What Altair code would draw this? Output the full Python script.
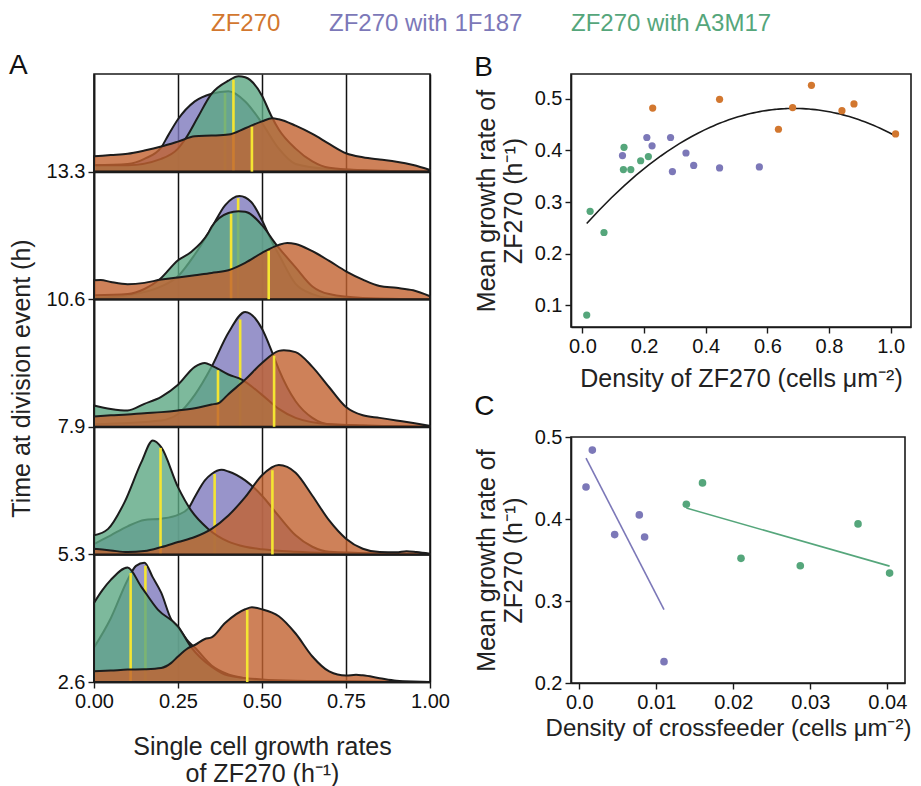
import altair as alt
import pandas as pd
import numpy as np

FONT = "Liberation Sans"

GROUPS = ["ZF270", "ZF270 with 1F187", "ZF270 with A3M17"]
POINT_COLORS = ["#D2772F", "#7C78B8", "#55A67B"]
FILL_COLORS = ["#C2612F", "#7E79BD", "#5DA783"]
ROW_LABELS = ["2.6", "5.3", "7.9", "10.6", "13.3"]

# ---- Panel A: ridge curves, (growth rate, height in row units), rows bottom -> top ----
R26_ZF270 = [(0, 0.084), (0.05, 0.09), (0.1, 0.097), (0.15, 0.1), (0.2, 0.11), (0.23, 0.15), (0.25, 0.2),
             (0.28, 0.265), (0.3, 0.29), (0.33, 0.337), (0.35, 0.35), (0.39, 0.462), (0.45, 0.57), (0.47, 0.585),
             (0.5, 0.57), (0.55, 0.515), (0.6, 0.38), (0.65, 0.2), (0.7, 0.083), (0.75, 0.05), (0.78, 0.057),
             (0.8, 0.052), (0.85, 0.03), (0.9, 0.01), (1.0, 0.0)]
R26_1F187 = [(0, 0.27), (0.05, 0.5), (0.1, 0.8), (0.125, 0.91), (0.15, 0.935), (0.175, 0.82), (0.2, 0.7),
             (0.23, 0.49), (0.25, 0.43), (0.28, 0.32), (0.3, 0.27), (0.35, 0.13), (0.4, 0.06), (0.45, 0.03),
             (0.5, 0.01), (1.0, 0.0)]
R26_A3M17 = [(0, 0.62), (0.025, 0.72), (0.05, 0.8), (0.1, 0.897), (0.14, 0.75), (0.19, 0.567), (0.25, 0.436),
             (0.29, 0.27), (0.35, 0.12), (0.4, 0.05), (0.5, 0.02), (0.6, 0.01), (1.0, 0.0)]

R53_ZF270 = [(0, 0.044), (0.05, 0.031), (0.1, 0.018), (0.15, 0.026), (0.2, 0.057), (0.25, 0.097), (0.3, 0.136),
             (0.35, 0.2), (0.4, 0.305), (0.45, 0.449), (0.5, 0.62), (0.55, 0.7), (0.6, 0.64), (0.65, 0.46),
             (0.7, 0.266), (0.75, 0.123), (0.8, 0.044), (0.85, 0.018), (0.9, 0.016), (0.93, 0.025),
             (0.96, 0.018), (1.0, 0.005)]
R53_1F187 = [(0, 0.08), (0.05, 0.15), (0.1, 0.22), (0.15, 0.27), (0.2, 0.28), (0.25, 0.31), (0.28, 0.358),
             (0.3, 0.45), (0.33, 0.58), (0.35, 0.63), (0.38, 0.663), (0.4, 0.65), (0.45, 0.58), (0.5, 0.46),
             (0.55, 0.3), (0.6, 0.15), (0.65, 0.06), (0.7, 0.02), (1.0, 0.0)]
R53_A3M17 = [(0, 0.149), (0.042, 0.2), (0.091, 0.41), (0.141, 0.723), (0.175, 0.893), (0.2, 0.84),
             (0.25, 0.527), (0.289, 0.345), (0.34, 0.2), (0.4, 0.1), (0.45, 0.06), (0.5, 0.04), (0.6, 0.02),
             (0.7, 0.01), (1.0, 0.0)]

R79_ZF270 = [(0, 0.081), (0.05, 0.09), (0.1, 0.097), (0.15, 0.107), (0.2, 0.115), (0.25, 0.128), (0.3, 0.146),
             (0.35, 0.175), (0.37, 0.185), (0.4, 0.256), (0.45, 0.37), (0.5, 0.5), (0.55, 0.595), (0.565, 0.6),
             (0.6, 0.585), (0.65, 0.47), (0.7, 0.31), (0.75, 0.155), (0.8, 0.09), (0.85, 0.07), (0.9, 0.05),
             (0.95, 0.03), (1.0, 0.008)]
R79_1F187 = [(0, 0.02), (0.2, 0.05), (0.25, 0.1), (0.3, 0.25), (0.35, 0.47), (0.4, 0.737), (0.45, 0.9),
             (0.5, 0.768), (0.53, 0.585), (0.55, 0.45), (0.6, 0.2), (0.65, 0.07), (0.7, 0.02), (1.0, 0.0)]
R79_A3M17 = [(0, 0.167), (0.05, 0.14), (0.1, 0.128), (0.15, 0.18), (0.2, 0.235), (0.25, 0.33), (0.3, 0.47),
             (0.33, 0.5), (0.35, 0.48), (0.4, 0.41), (0.44, 0.37), (0.5, 0.25), (0.55, 0.14), (0.6, 0.07),
             (0.7, 0.02), (0.8, 0.01), (1.0, 0.0)]

R106_ZF270 = [(0, 0.149), (0.02, 0.15), (0.05, 0.135), (0.1, 0.118), (0.15, 0.128), (0.2, 0.154), (0.25, 0.17),
              (0.3, 0.188), (0.35, 0.206), (0.4, 0.227), (0.45, 0.285), (0.5, 0.363), (0.55, 0.426),
              (0.575, 0.441), (0.6, 0.433), (0.65, 0.376), (0.7, 0.3), (0.75, 0.219), (0.8, 0.154),
              (0.85, 0.104), (0.9, 0.089), (0.95, 0.07), (1.0, 0.023)]
R106_1F187 = [(0, 0.01), (0.1, 0.03), (0.2, 0.1), (0.25, 0.18), (0.3, 0.35), (0.35, 0.56), (0.39, 0.736),
              (0.433, 0.809), (0.468, 0.762), (0.5, 0.619), (0.532, 0.436), (0.55, 0.35), (0.6, 0.12),
              (0.65, 0.04), (0.7, 0.01), (1.0, 0.0)]
R106_A3M17 = [(0, 0.03), (0.1, 0.04), (0.15, 0.08), (0.195, 0.154), (0.25, 0.305), (0.289, 0.37),
              (0.339, 0.514), (0.35, 0.567), (0.4, 0.676), (0.43, 0.689), (0.45, 0.686), (0.5, 0.58),
              (0.54, 0.436), (0.6, 0.25), (0.65, 0.1), (0.7, 0.04), (0.8, 0.01), (1.0, 0.0)]

R133_ZF270 = [(0, 0.12), (0.05, 0.13), (0.1, 0.14), (0.15, 0.165), (0.2, 0.196), (0.25, 0.235), (0.3, 0.277),
              (0.35, 0.282), (0.4, 0.29), (0.45, 0.34), (0.5, 0.394), (0.53, 0.418), (0.55, 0.41), (0.6, 0.36),
              (0.65, 0.295), (0.7, 0.217), (0.75, 0.144), (0.8, 0.112), (0.85, 0.094), (0.9, 0.078),
              (0.95, 0.052), (1.0, 0.013)]
R133_1F187 = [(0, 0.05), (0.1, 0.06), (0.15, 0.1), (0.2, 0.19), (0.22, 0.28), (0.25, 0.41), (0.3, 0.55),
              (0.35, 0.61), (0.4, 0.63), (0.45, 0.55), (0.5, 0.38), (0.55, 0.18), (0.6, 0.06), (0.7, 0.02),
              (0.8, 0.01), (1.0, 0.0)]
R133_A3M17 = [(0, 0.05), (0.1, 0.05), (0.2, 0.1), (0.25, 0.18), (0.275, 0.269), (0.309, 0.426),
              (0.349, 0.608), (0.4, 0.713), (0.43, 0.747), (0.45, 0.739), (0.5, 0.595), (0.527, 0.44),
              (0.55, 0.33), (0.6, 0.18), (0.65, 0.08), (0.7, 0.03), (0.8, 0.01), (1.0, 0.0)]

MEANS_ZF270 = [0.456, 0.531, 0.536, 0.52, 0.47]
MEANS_1F187 = [0.153, 0.359, 0.435, 0.429, 0.39]
MEANS_A3M17 = [0.109, 0.198, 0.369, 0.408, 0.415]

# ---- Panel B ----
B_ZF270_X = [0.228, 0.445, 0.636, 0.682, 0.743, 0.842, 0.881, 1.016]
B_ZF270_Y = [0.482, 0.499, 0.441, 0.483, 0.526, 0.477, 0.490, 0.432]
B_1F187_X = [0.130, 0.209, 0.226, 0.286, 0.292, 0.336, 0.361, 0.445, 0.574]
B_1F187_Y = [0.390, 0.425, 0.409, 0.425, 0.359, 0.395, 0.371, 0.366, 0.368]
B_A3M17_X = [0.014, 0.025, 0.070, 0.135, 0.133, 0.157, 0.189, 0.214]
B_A3M17_Y = [0.081, 0.282, 0.241, 0.406, 0.363, 0.363, 0.380, 0.388]

# ---- Panel C ----
C_1F187_X = [0.00087, 0.00169, 0.00459, 0.00779, 0.00848, 0.0110]
C_1F187_Y = [0.439, 0.484, 0.381, 0.405, 0.378, 0.226]
C_A3M17_X = [0.0139, 0.0160, 0.0210, 0.0287, 0.0362, 0.0403]
C_A3M17_Y = [0.418, 0.444, 0.352, 0.343, 0.394, 0.334]

CURVES = {
    GROUPS[0]: [R26_ZF270, R53_ZF270, R79_ZF270, R106_ZF270, R133_ZF270],
    GROUPS[1]: [R26_1F187, R53_1F187, R79_1F187, R106_1F187, R133_1F187],
    GROUPS[2]: [R26_A3M17, R53_A3M17, R79_A3M17, R106_A3M17, R133_A3M17],
}
MEANS = {GROUPS[0]: MEANS_ZF270, GROUPS[1]: MEANS_1F187, GROUPS[2]: MEANS_A3M17}

area_rows, mean_rows = [], []
for g in GROUPS:
    for r, curve in enumerate(CURVES[g]):
        xs = [p[0] for p in curve]
        hs = [p[1] for p in curve]
        for x, h in curve:
            area_rows.append({"group": g, "row": r, "x": x, "top": r + h, "base": r})
        m = MEANS[g][r]
        mean_rows.append({"group": g, "row": r, "x": m, "base": r,
                          "top": r + float(np.interp(m, xs, hs)) - 0.01})
ridge = pd.DataFrame(area_rows)
means = pd.DataFrame(mean_rows)

ROW_H = 127.6
A_W, A_H = 336, 608
y_top = A_H / ROW_H

labels_js = "[" + ",".join(f"'{s}'" for s in ROW_LABELS) + "]"

xA = alt.X("x:Q", scale=alt.Scale(domain=[0, 1], nice=False, zero=False),
           axis=alt.Axis(values=[0, 0.25, 0.5, 0.75, 1.0], format=".2f", grid=True, labelFlush=False,
                         title=["Single cell growth rates", "of ZF270 (h\u207b\u00b9)"], titlePadding=23))
yA = alt.Y("top:Q", scale=alt.Scale(domain=[0, y_top], nice=False, zero=False),
           axis=alt.Axis(values=[0, 1, 2, 3, 4], labelExpr=f"{labels_js}[datum.value]", grid=True,
                         labelFlush=False, title="Time at division event  (h)", titlePadding=12))

layers = []
for g in [GROUPS[1], GROUPS[2], GROUPS[0]]:
    fill = FILL_COLORS[GROUPS.index(g)]
    layers.append(
        alt.Chart(ridge[ridge.group == g]).mark_area(
            interpolate="monotone", fill=fill, fillOpacity=0.8, stroke="#1c1c1c", strokeWidth=2
        ).encode(x=xA, y=yA, y2="base:Q", detail="row:N")
    )
    layers.append(
        alt.Chart(means[means.group == g]).mark_rule(color="#F4E532", strokeWidth=2.6).encode(
            x=xA, y=yA, y2="base:Q"
        )
    )

panelA = alt.layer(*layers).properties(
    width=A_W, height=A_H,
    title=alt.TitleParams("A", anchor="start", fontSize=28, fontWeight="normal", font=FONT,
                          color="#111", offset=-8),
)

color_scale = alt.Scale(domain=GROUPS, range=POINT_COLORS)
label_expr = "".join(f"datum.label === '{g}' ? '{c}' : " for g, c in zip(GROUPS, POINT_COLORS)) + "'#333'"

legend = alt.Legend(orient="none", legendX=93, legendY=-62, direction="horizontal", title=None,
                    symbolOpacity=0, symbolSize=0, symbolStrokeWidth=0, labelOffset=0,
                    labelFontSize=24, labelFont=FONT, labelLimit=500, columnPadding=24,
                    labelColor=alt.ExprRef(label_expr))

# ---- Panel B chart ----
b_rows = []
for g, xs, ys in [(GROUPS[0], B_ZF270_X, B_ZF270_Y), (GROUPS[1], B_1F187_X, B_1F187_Y),
                  (GROUPS[2], B_A3M17_X, B_A3M17_Y)]:
    for x, y in zip(xs, ys):
        b_rows.append({"group": g, "x": x, "y": y})
dfB = pd.DataFrame(b_rows)

xB = alt.X("x:Q", scale=alt.Scale(domain=[-0.037, 1.066], nice=False, zero=False),
           axis=alt.Axis(values=[0, 0.2, 0.4, 0.6, 0.8, 1.0], format=".1f",
                         title="Density of ZF270 (cells \u03bcm\u207b\u00b2)", titlePadding=10))
yB = alt.Y("y:Q", scale=alt.Scale(domain=[0.058, 0.548], nice=False, zero=False),
           axis=alt.Axis(values=[0.1, 0.2, 0.3, 0.4, 0.5], format=".1f",
                         title=["Mean growth rate of", "ZF270 (h\u207b\u00b9)"], titlePadding=8))

fitB = alt.Chart(dfB).transform_regression("x", "y", method="poly", order=2).mark_line(
    color="#1a1a1a", strokeWidth=1.6).encode(x=xB, y=yB)
ptsB = alt.Chart(dfB).mark_circle(size=52, opacity=1).encode(
    x=xB, y=yB, color=alt.Color("group:N", scale=color_scale, legend=legend))
panelB = alt.layer(fitB, ptsB).properties(
    width=340, height=253,
    title=alt.TitleParams("B", anchor="start", fontSize=28, fontWeight="normal", font=FONT,
                          color="#111", offset=-8),
)

# ---- Panel C chart ----
c_rows = []
for g, xs, ys in [(GROUPS[1], C_1F187_X, C_1F187_Y), (GROUPS[2], C_A3M17_X, C_A3M17_Y)]:
    for x, y in zip(xs, ys):
        c_rows.append({"group": g, "x": x, "y": y})
dfC = pd.DataFrame(c_rows)

C_W, C_H = 334, 246
xC = alt.X("x:Q", scale=alt.Scale(domain=[-0.00108, 0.0423], nice=False, zero=False),
           axis=alt.Axis(values=[0, 0.01, 0.02, 0.03, 0.04],
                         labelExpr="datum.value == 0 ? '0.0' : format(datum.value, '.2f')",
                         title="Density of crossfeeder (cells \u03bcm\u207b\u00b2)", titlePadding=4,
                         titleFontSize=24, titleX=C_W / 2 - 10))
yC = alt.Y("y:Q", scale=alt.Scale(domain=[0.2, 0.5], nice=False, zero=False),
           axis=alt.Axis(values=[0.2, 0.3, 0.4, 0.5], format=".1f",
                         title=["Mean growth rate of", "ZF270 (h\u207b\u00b9)"], titlePadding=8))

fitC = alt.Chart(dfC).transform_regression("x", "y", groupby=["group"]).mark_line(strokeWidth=1.6).encode(
    x=xC, y=yC, color=alt.Color("group:N", scale=color_scale, legend=None))
ptsC = alt.Chart(dfC).mark_circle(size=58, opacity=1).encode(
    x=xC, y=yC, color=alt.Color("group:N", scale=color_scale, legend=None))
panelC = alt.layer(fitC, ptsC).properties(
    width=C_W, height=C_H,
    title=alt.TitleParams("C", anchor="start", fontSize=28, fontWeight="normal", font=FONT,
                          color="#111", offset=6),
)

right = alt.vconcat(panelB, panelC, spacing=0)
chart = alt.hconcat(panelA, right, spacing=22).properties(
    padding={"left": 0, "top": 4, "right": 0, "bottom": 2}
).configure_view(
    stroke="#1a1a1a", strokeWidth=1.6
).configure_axis(
    labelFont=FONT, titleFont=FONT, labelFontSize=20, titleFontSize=25, titleFontWeight="normal",
    labelColor="#111", titleColor="#222", domainColor="#1a1a1a", domainWidth=1.6,
    tickColor="#1a1a1a", tickSize=6, tickWidth=1.4, gridColor="#111", gridWidth=1.5,
    grid=False, labelPadding=3
)

chart.save("out.html", embed_options={"renderer": "svg", "actions": False})
